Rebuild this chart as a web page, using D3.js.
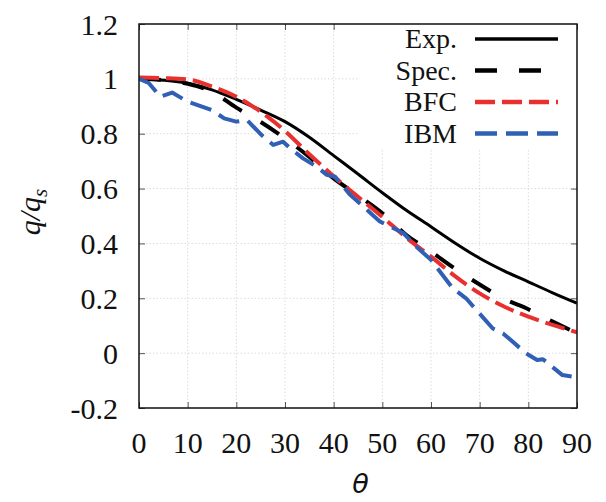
<!DOCTYPE html>
<html>
<head>
<meta charset="utf-8">
<script src="https://cdn.jsdelivr.net/npm/d3@7"></script>
<style>
  html, body { margin: 0; padding: 0; background: #fff; }
  svg { display: block; }
  .tick-label { font-family: "Liberation Serif", "Times New Roman", serif; font-size: 30px; fill: #111; }
  .legend-label { font-family: "Liberation Serif", "Times New Roman", serif; font-size: 28px; fill: #111; }
</style>
</head>
<body>
<svg id="chart" width="606" height="502"></svg>
<script>
// Heat-flux ratio q/q_s along the cylinder surface versus angle θ (degrees)
const theta = [0, 5, 10, 15, 20, 25, 30, 35, 40, 45, 50, 55, 60, 65, 70, 75, 80, 85, 90];
const expValues  = [1.0, 0.995, 0.984, 0.96, 0.925, 0.886, 0.844, 0.787, 0.72, 0.653, 0.585, 0.52, 0.461, 0.401, 0.346, 0.3, 0.26, 0.22, 0.182];
const specValues = [1.0, 0.995, 0.982, 0.953, 0.895, 0.843, 0.783, 0.715, 0.637, 0.575, 0.51, 0.43, 0.37, 0.307, 0.25, 0.198, 0.16, 0.115, 0.073];
const bfcValues  = [1.005, 1.003, 0.998, 0.972, 0.935, 0.88, 0.81, 0.725, 0.645, 0.57, 0.497, 0.42, 0.352, 0.28, 0.218, 0.17, 0.133, 0.103, 0.076];

const ibmTheta  = [0, 2, 4.4, 6.8, 10, 15, 17.5, 20, 22.2, 25.2, 27.6, 29.6, 31, 33.7, 36.5, 38.6, 40.3, 43.4, 48, 49.5, 54.3, 57, 60, 64.5, 67.2, 72.7, 74.8, 79.5, 81.8, 83, 87, 90];
const ibmValues = [1.0, 0.985, 0.935, 0.95, 0.917, 0.886, 0.856, 0.844, 0.85, 0.795, 0.759, 0.771, 0.748, 0.71, 0.68, 0.65, 0.643, 0.577, 0.504, 0.48, 0.438, 0.388, 0.34, 0.236, 0.2, 0.09, 0.072, 0.0, -0.025, -0.022, -0.08, -0.088];

const xTicks = [0, 10, 20, 30, 40, 50, 60, 70, 80, 90];
const yTicks = [-0.2, 0, 0.2, 0.4, 0.6, 0.8, 1.0, 1.2];
const seriesNames = ["Exp.", "Spec.", "BFC", "IBM"];

const width = 606, height = 502;
const margin = { top: 24, right: 29, bottom: 94, left: 139 };
const innerW = width - margin.left - margin.right;
const innerH = height - margin.top - margin.bottom;

const svg = d3.select("#chart");
const g = svg.append("g").attr("transform", `translate(${margin.left},${margin.top})`);

const x = d3.scaleLinear().domain([0, 90]).range([0, innerW]);
const y = d3.scaleLinear().domain([-0.2, 1.2]).range([innerH, 0]);

// dotted grid
const grid = g.append("g").attr("stroke", "#dcdcdc").attr("stroke-width", 1).attr("stroke-dasharray", "1.5,2");
grid.selectAll(".gx").data(xTicks.slice(1, -1)).join("line")
  .attr("x1", d => x(d)).attr("x2", d => x(d)).attr("y1", 0).attr("y2", innerH);
grid.selectAll(".gy").data(yTicks.slice(1, -1)).join("line")
  .attr("x1", 0).attr("x2", innerW).attr("y1", d => y(d)).attr("y2", d => y(d));

// axes with inward ticks on all four sides
const fmt = v => String(+v.toFixed(1));
const tickLen = 6;
const axB = g.append("g").attr("transform", `translate(0,${innerH})`)
  .call(d3.axisBottom(x).tickValues(xTicks).tickSizeInner(-tickLen).tickSizeOuter(0).tickFormat(""));
const axT = g.append("g")
  .call(d3.axisTop(x).tickValues(xTicks).tickSizeInner(-tickLen).tickSizeOuter(0).tickFormat(""));
const axL = g.append("g")
  .call(d3.axisLeft(y).tickValues(yTicks).tickSizeInner(-tickLen).tickSizeOuter(0).tickFormat(""));
const axR = g.append("g").attr("transform", `translate(${innerW},0)`)
  .call(d3.axisRight(y).tickValues(yTicks).tickSizeInner(-tickLen).tickSizeOuter(0).tickFormat(""));
[axB, axT, axL, axR].forEach(a => {
  a.select(".domain").remove();
  a.selectAll(".tick line").attr("stroke", "#555").attr("stroke-width", 1);
});

// tick labels
g.append("g").selectAll("text").data(xTicks).join("text")
  .attr("class", "tick-label")
  .attr("x", d => x(d)).attr("y", innerH + 45)
  .attr("text-anchor", "middle")
  .text(d => d);
g.append("g").selectAll("text").data(yTicks).join("text")
  .attr("class", "tick-label")
  .attr("x", -21).attr("y", d => y(d))
  .attr("dy", "0.35em")
  .attr("text-anchor", "end")
  .text(fmt);

// legend panel (white box hides the grid behind it)
const legendX = x(45.3);
g.append("rect")
  .attr("x", legendX).attr("y", 0)
  .attr("width", innerW - legendX).attr("height", 126)
  .attr("fill", "#fff");

// curves
const smooth = d3.line().x(d => x(d[0])).y(d => y(d[1])).curve(d3.curveMonotoneX);
const straight = d3.line().x(d => x(d[0])).y(d => y(d[1]));

const series = [
  { name: seriesNames[0], pts: d3.zip(theta, expValues),    color: "#000",    w: 3, dash: null,    gen: smooth },
  { name: seriesNames[1], pts: d3.zip(theta, specValues),   color: "#000",    w: 4, dash: "22,22", gen: smooth },
  { name: seriesNames[2], pts: d3.zip(theta, bfcValues),    color: "#e8302f", w: 4, dash: "20,7",  gen: smooth },
  { name: seriesNames[3], pts: d3.zip(ibmTheta, ibmValues), color: "#2f60b5", w: 4, dash: "22,9",  gen: straight }
];

const clip = svg.append("defs").append("clipPath").attr("id", "plot-clip");
clip.append("rect").attr("x", 0).attr("y", 0).attr("width", innerW).attr("height", innerH);

const curves = g.append("g").attr("clip-path", "url(#plot-clip)");
series.forEach(s => {
  curves.append("path")
    .attr("d", s.gen(s.pts))
    .attr("fill", "none")
    .attr("stroke", s.color)
    .attr("stroke-width", s.w)
    .attr("stroke-dasharray", s.dash)
    .attr("stroke-linejoin", "round");
});

// legend entries
const legend = g.append("g");
series.forEach((s, i) => {
  const ry = 15 + i * 31.5;
  legend.append("text")
    .attr("class", "legend-label")
    .attr("x", 457 - margin.left).attr("y", ry)
    .attr("dy", "0.33em")
    .attr("text-anchor", "end")
    .text(s.name);
  legend.append("line")
    .attr("x1", 475 - margin.left).attr("x2", 558 - margin.left)
    .attr("y1", ry).attr("y2", ry)
    .attr("stroke", s.color)
    .attr("stroke-width", s.w + 0.5)
    .attr("stroke-dasharray", s.dash);
});

// frame
g.append("rect")
  .attr("x", 0).attr("y", 0).attr("width", innerW).attr("height", innerH)
  .attr("fill", "none").attr("stroke", "#111").attr("stroke-width", 1.5);

// axis titles
svg.append("text")
  .attr("x", margin.left + x(45.5)).attr("y", 493)
  .attr("text-anchor", "middle")
  .attr("font-family", "'DejaVu Sans', sans-serif")
  .attr("font-style", "italic")
  .attr("font-size", 27)
  .attr("fill", "#111")
  .text("θ");

const yTitle = svg.append("text")
  .attr("transform", "translate(40,212) rotate(-90)")
  .attr("text-anchor", "middle")
  .attr("font-family", "'Liberation Serif', 'Times New Roman', serif")
  .attr("font-style", "italic")
  .attr("font-size", 30)
  .attr("fill", "#111");
yTitle.append("tspan").text("q/q");
yTitle.append("tspan").attr("font-size", 21).attr("dy", 7).text("s");
</script>
</body>
</html>
